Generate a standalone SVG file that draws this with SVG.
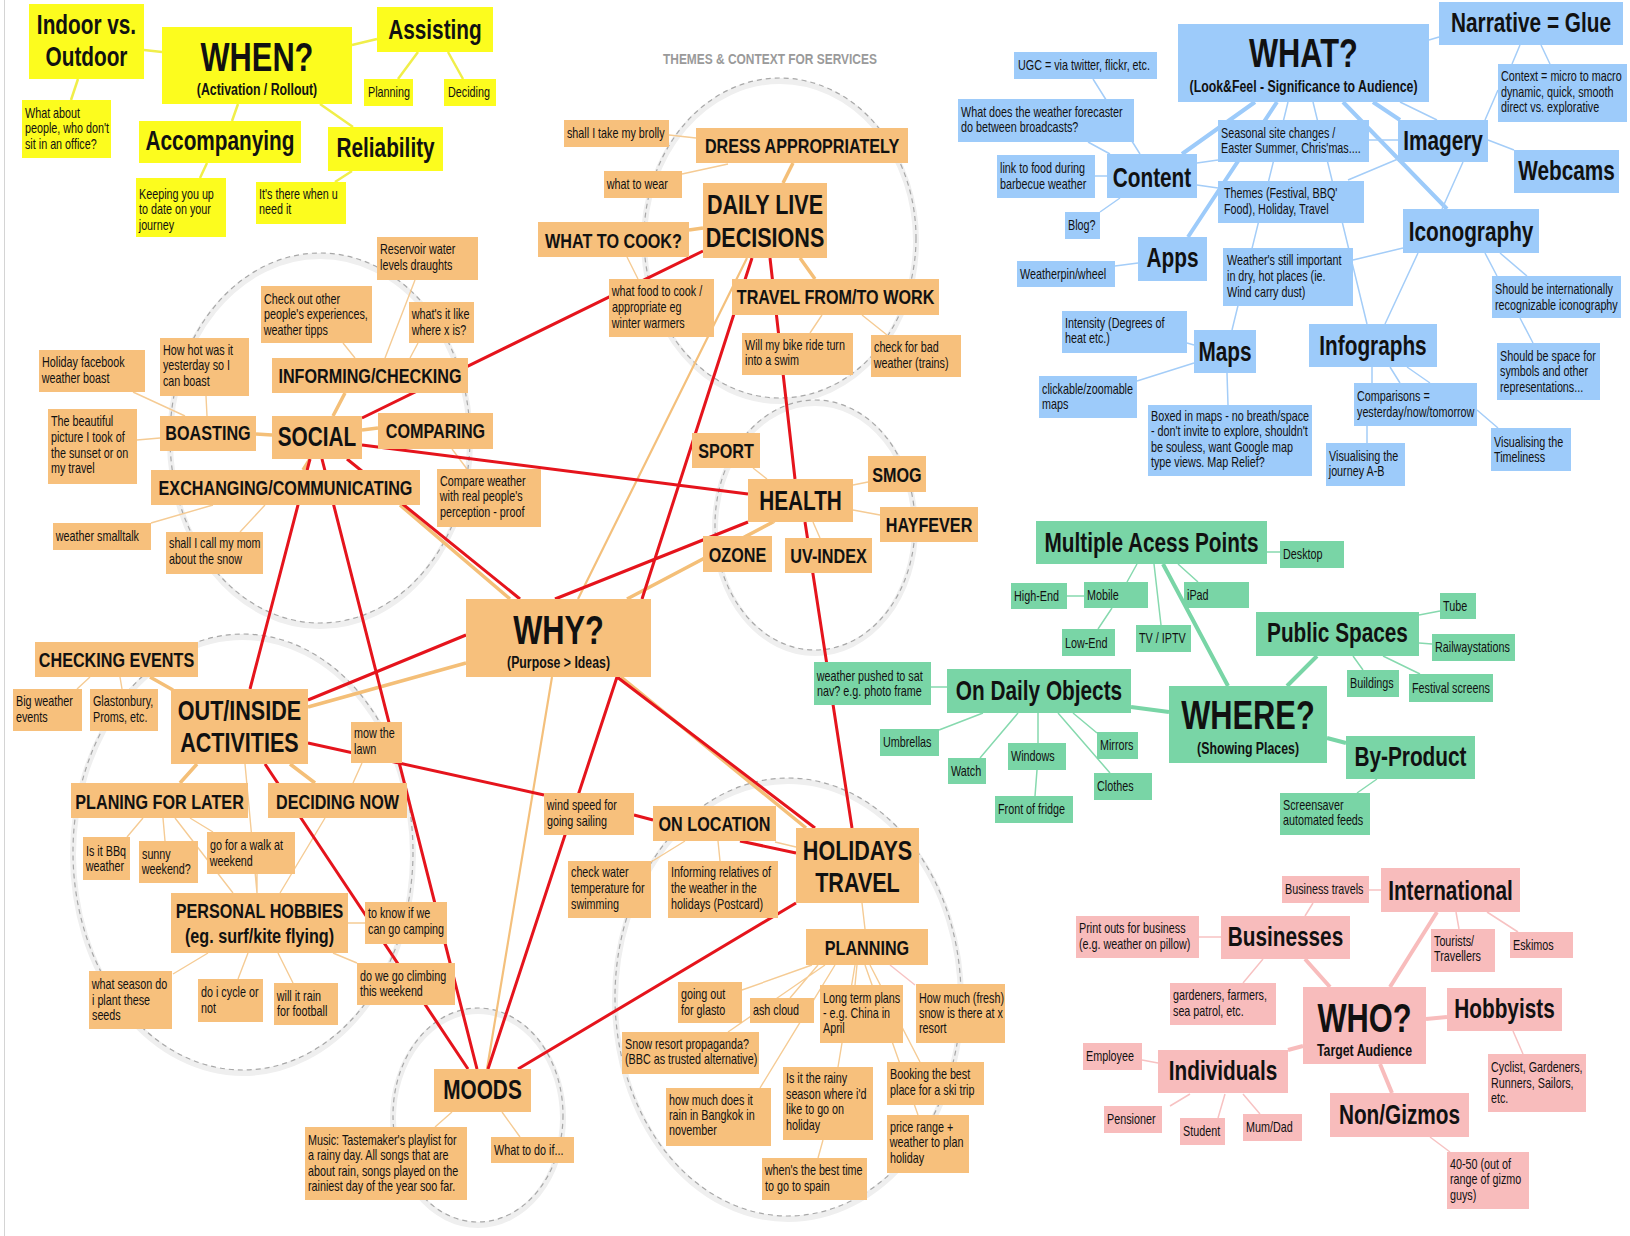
<svg xmlns="http://www.w3.org/2000/svg" width="1630" height="1236" viewBox="0 0 1630 1236">
<style>
text{font-family:"Liberation Sans",Arial,sans-serif;fill:#111;transform-box:fill-box;transform:scaleX(0.77)}
.y{fill:#fcfc1e}.o{fill:#f7c07c}.b{fill:#9dcbfa}.g{fill:#79d5a6}.p{fill:#f8bcbc}
.n{font-size:14px;transform-origin:0 50%}
.m{font-size:21px;font-weight:bold;text-anchor:middle;transform-origin:50% 50%}
.l{font-size:27px;font-weight:bold;text-anchor:middle;transform-origin:50% 50%}
.l2{font-size:28px}
.h{font-size:40px;font-weight:bold;text-anchor:middle;transform-origin:50% 50%}
.s{font-size:16px;font-weight:bold;text-anchor:middle;transform-origin:50% 50%}
.title{font-size:15.5px;font-weight:bold;fill:#9a9a9a;transform-origin:0 50%}
.cy{stroke:#f0ee4a;stroke-width:2.5;fill:none}
.cb{stroke:#a4cdf8;stroke-width:1.5;fill:none}
.cbt{stroke:#9dcbfa;stroke-width:4;fill:none}
.cg{stroke:#86d9ae;stroke-width:1.5;fill:none}
.cgt{stroke:#79d5a6;stroke-width:4;fill:none}
.cp{stroke:#f7c2c2;stroke-width:1.5;fill:none}
.cpt{stroke:#f8bcbc;stroke-width:4;fill:none}
.co{stroke:#f5cb94;stroke-width:1.4;fill:none}
.cot{stroke:#f4bf78;stroke-width:3.5;fill:none}
.com{stroke:#f4c07c;stroke-width:2.2;fill:none}
.cr{stroke:#e5141c;stroke-width:3;fill:none}
.sh{fill:none;stroke:#efefef;stroke-width:6}
.dc{fill:none;stroke:#a8a8a8;stroke-width:1.2;stroke-dasharray:5 4}
</style>
<rect width="1630" height="1236" fill="#ffffff"/>
<line x1="4.5" y1="0" x2="4.5" y2="1236" stroke="#d4d4d4" stroke-width="1"/>
<text class="title" x="663" y="64">THEMES &amp; CONTEXT FOR SERVICES</text>

<g id="circles">
<ellipse class="sh" cx="780" cy="241" rx="136" ry="160"/><ellipse class="dc" cx="780" cy="238" rx="136" ry="160"/>
<ellipse class="sh" cx="320" cy="441" rx="150" ry="185"/><ellipse class="dc" cx="320" cy="438" rx="150" ry="185"/>
<ellipse class="sh" cx="243" cy="855" rx="170" ry="218"/><ellipse class="dc" cx="243" cy="852" rx="170" ry="218"/>
<ellipse class="sh" cx="815" cy="528" rx="100" ry="125"/><ellipse class="dc" cx="815" cy="525" rx="100" ry="125"/>
<ellipse class="sh" cx="788" cy="1000" rx="173" ry="219"/><ellipse class="dc" cx="788" cy="997" rx="173" ry="219"/>
<ellipse class="sh" cx="478" cy="1118" rx="85" ry="107"/><ellipse class="dc" cx="478" cy="1115" rx="85" ry="107"/>
</g>

<g id="connectors">
<path class="cy" d="M144,50L162,52M78,79L71,100M238,104L232,121M320,104L353,127M352,45L377,39M418,52L398,79M448,52L463,79M207,163L200,178M352,171L335,182"/>
<path class="cbt" d="M1182,154L1255,102M1188,237L1277,102M1343,102L1447,209M1373,102L1400,120"/>
<path class="cb" d="M1288,102L1232,330M1313,102L1367,324M1400,102L1437,120M1429,40L1439,37M1095,176L1107,176M1088,142L1110,154M1093,79L1140,154M1100,212L1120,198M1197,163L1218,160M1197,185L1218,188M1115,266L1138,263M1187,343L1194,345M1137,381L1194,363M1227,373L1228,405M1485,120L1498,90M1520,45L1512,64M1541,45L1550,64M1488,140L1514,150M1369,140L1398,140M1348,180L1398,159M1463,162L1442,209M1403,248L1353,260M1418,253L1385,324M1485,253L1497,276M1500,253L1527,276M1520,318L1533,343M1372,367L1372,383M1390,367L1400,383M1407,367L1430,383M1367,426L1367,443M1477,410L1498,428"/>
<path class="cgt" d="M1163,564L1228,686M1287,686L1317,656M1327,738L1346,743M1131,707L1169,712"/>
<path class="cg" d="M1267,552L1280,552M1137,564L1127,582M1154,564L1161,625M1178,564L1198,582M1067,596L1084,596M1112,608L1098,629M1419,615L1440,611M1419,643L1432,644M1353,656L1363,670M1383,656L1420,674M1377,779L1357,793M931,687L947,687M983,713L939,730M1018,713L980,758M1038,713L1038,743M1037,770L1035,796M1073,713L1097,733M1058,713L1110,773"/>
<path class="cpt" d="M1305,959L1330,987M1437,912L1390,987M1426,1019L1447,1017M1303,1046L1288,1050M1380,1064L1392,1093"/>
<path class="cp" d="M1369,890L1381,890M1313,903L1305,916M1199,937L1221,937M1263,959L1243,983M1456,912L1459,929M1487,912L1518,932M1513,1031L1523,1054M1430,1137L1450,1152M1142,1060L1158,1063M1190,1094L1170,1106M1225,1094L1218,1118M1243,1094L1260,1114"/>
<path class="co" d="M669,135L696,138M682,174L728,164M627,257L638,279M822,315L810,333M862,315L887,335M343,343L355,358M415,280L385,358M418,343L410,358M133,392L185,416M206,396L207,416M137,440L160,438M151,523L213,505M240,532L265,505M452,449L467,469M90,677L77,689M120,677L122,689M245,764L257,893M362,763L353,783M127,837L143,818M165,841L163,818M213,832L190,818M175,818L233,893M257,874L257,893M325,818L280,893M348,923L365,923M333,953L357,963M208,953L173,974M248,953L238,979M278,953L293,983M452,1112L435,1127M502,1112L520,1137M685,841L651,862M718,841L720,861M853,485L868,482M853,510L880,515M813,522L820,538M775,522L745,536M753,468L767,479M862,903L865,929M775,842L796,847M742,990L812,965M790,998L818,965M728,1032L825,965M760,1088L835,965M857,965L855,985M855,965L838,1067M870,965L920,1062M865,965L918,1115M823,1140L818,1158"/>
<path class="cp" d="M890,965L915,985"/>
<path class="com" d="M552,677L487,1069M747,258L578,599"/>
<path class="cot" d="M400,505L510,599M308,707L466,663M621,677L806,828M773,522L627,599M333,416L345,393M310,459L303,470M362,430L378,428M256,434L272,435M150,677L173,690M197,764L180,783M290,764L315,783M689,230L703,228M793,163L783,183M800,258L815,279"/>
<path class="cr" d="M362,418L703,251M362,445L748,494M347,459L520,599M310,459L250,689M322,459L477,1069M308,700L466,635M308,743L544,795M634,815L653,820M740,841L796,853M617,677L815,828M617,677L488,1069M265,764L468,1069M770,258L795,479M752,258L642,599M748,522L555,599M805,522L852,828M518,1069L796,903"/>
</g>

<g id="n-indoor"><rect class="y" x="29" y="4" width="115" height="75"/><text class="l" x="86.5" y="34">Indoor vs.</text><text class="l" x="86.5" y="66">Outdoor</text></g>
<g id="n-when"><rect class="y" x="162" y="27" width="190" height="77"/><text class="h" x="257" y="71">WHEN?</text><text class="s" x="257" y="95">(Activation / Rollout)</text></g>
<g id="n-assisting"><rect class="y" x="377" y="7" width="116" height="45"/><text class="l" x="435" y="39">Assisting</text></g>
<g id="n-planning-y"><rect class="y" x="364" y="79" width="49" height="27"/><text class="n" x="368" y="97">Planning</text></g>
<g id="n-deciding"><rect class="y" x="444" y="79" width="52" height="27"/><text class="n" x="448" y="97">Deciding</text></g>
<g id="n-whatabout"><rect class="y" x="22" y="100" width="89" height="58"/><text class="n" x="25" y="118">What about</text><text class="n" x="25" y="133.5">people, who don't</text><text class="n" x="25" y="149">sit in an office?</text></g>
<g id="n-accomp"><rect class="y" x="139" y="121" width="162" height="42"/><text class="l" x="220" y="150">Accompanying</text></g>
<g id="n-reliab"><rect class="y" x="328" y="127" width="115" height="44"/><text class="l" x="385.5" y="157">Reliability</text></g>
<g id="n-keeping"><rect class="y" x="136" y="178" width="90" height="59"/><text class="n" x="139" y="199">Keeping you up</text><text class="n" x="139" y="214.5">to date on your</text><text class="n" x="139" y="230">journey</text></g>
<g id="n-itsthere"><rect class="y" x="256" y="182" width="90" height="42"/><text class="n" x="259" y="199">It's there when u</text><text class="n" x="259" y="214">need it</text></g>

<g id="n-what"><rect class="b" x="1178" y="24" width="251" height="78"/><text class="h" x="1303.5" y="67">WHAT?</text><text class="s" x="1303.5" y="92">(Look&amp;Feel - Significance to Audience)</text></g>
<g id="n-narr"><rect class="b" x="1439" y="2" width="184" height="43"/><text class="l" x="1531" y="32">Narrative = Glue</text></g>
<g id="n-context"><rect class="b" x="1498" y="64" width="129" height="58"/><text class="n" x="1501" y="81.5">Context = micro to macro</text><text class="n" x="1501" y="97">dynamic, quick, smooth</text><text class="n" x="1501" y="112">direct vs. explorative</text></g>
<g id="n-ugc"><rect class="b" x="1014" y="52" width="143" height="27"/><text class="n" x="1018" y="70">UGC = via twitter, flickr, etc.</text></g>
<g id="n-forecaster"><rect class="b" x="958" y="99" width="176" height="43"/><text class="n" x="961" y="117.5">What does the weather forecaster</text><text class="n" x="961" y="132.5">do between broadcasts?</text></g>
<g id="n-linkfood"><rect class="b" x="997" y="155" width="98" height="43"/><text class="n" x="1000" y="173.5">link to food during</text><text class="n" x="1000" y="189">barbecue weather</text></g>
<g id="n-content"><rect class="b" x="1107" y="154" width="90" height="44"/><text class="l" x="1152" y="187">Content</text></g>
<g id="n-blog"><rect class="b" x="1065" y="212" width="35" height="27"/><text class="n" x="1068" y="230">Blog?</text></g>
<g id="n-apps"><rect class="b" x="1138" y="237" width="69" height="44"/><text class="l" x="1172.5" y="267">Apps</text></g>
<g id="n-weatherpin"><rect class="b" x="1017" y="261" width="98" height="26"/><text class="n" x="1020" y="279">Weatherpin/wheel</text></g>
<g id="n-intensity"><rect class="b" x="1062" y="311" width="125" height="42"/><text class="n" x="1065" y="328">Intensity (Degrees of</text><text class="n" x="1065" y="343">heat etc.)</text></g>
<g id="n-maps"><rect class="b" x="1194" y="330" width="62" height="43"/><text class="l" x="1225" y="361">Maps</text></g>
<g id="n-clickable"><rect class="b" x="1039" y="376" width="98" height="42"/><text class="n" x="1042" y="394">clickable/zoomable</text><text class="n" x="1042" y="409">maps</text></g>
<g id="n-boxed"><rect class="b" x="1148" y="405" width="164" height="71"/><text class="n" x="1151" y="421.5">Boxed in maps - no breath/space</text><text class="n" x="1151" y="436.5">- don't invite to explore, shouldn't</text><text class="n" x="1151" y="452">be souless, want Google map</text><text class="n" x="1151" y="467">type views. Map Relief?</text></g>
<g id="n-seasonal"><rect class="b" x="1218" y="120" width="151" height="42"/><text class="n" x="1221" y="138">Seasonal site changes /</text><text class="n" x="1221" y="153">Easter Summer, Chris'mas....</text></g>
<g id="n-themes"><rect class="b" x="1218" y="181" width="146" height="42"/><text class="n" x="1224" y="198">Themes (Festival, BBQ'</text><text class="n" x="1224" y="214">Food), Holiday, Travel</text></g>
<g id="n-imagery"><rect class="b" x="1398" y="120" width="90" height="42"/><text class="l" x="1443" y="150">Imagery</text></g>
<g id="n-webcams"><rect class="b" x="1514" y="150" width="105" height="43"/><text class="l" x="1566.5" y="180">Webcams</text></g>
<g id="n-icono"><rect class="b" x="1403" y="209" width="136" height="44"/><text class="l" x="1471" y="241">Iconography</text></g>
<g id="n-weatherstill"><rect class="b" x="1223" y="248" width="130" height="58"/><text class="n" x="1227" y="265.5">Weather's still important</text><text class="n" x="1227" y="281.5">in dry, hot places (ie.</text><text class="n" x="1227" y="297">Wind carry dust)</text></g>
<g id="n-intlicon"><rect class="b" x="1492" y="276" width="129" height="42"/><text class="n" x="1495" y="294.5">Should be internationally</text><text class="n" x="1495" y="310">recognizable iconography</text></g>
<g id="n-space"><rect class="b" x="1497" y="343" width="103" height="57"/><text class="n" x="1500" y="361.5">Should be space for</text><text class="n" x="1500" y="376.5">symbols and other</text><text class="n" x="1500" y="392">representations...</text></g>
<g id="n-infographs"><rect class="b" x="1309" y="324" width="128" height="43"/><text class="l" x="1373" y="355">Infographs</text></g>
<g id="n-comparisons"><rect class="b" x="1354" y="383" width="123" height="43"/><text class="n" x="1357" y="401.5">Comparisons =</text><text class="n" x="1357" y="417">yesterday/now/tomorrow</text></g>
<g id="n-journey"><rect class="b" x="1326" y="443" width="79" height="43"/><text class="n" x="1329" y="461.5">Visualising the</text><text class="n" x="1329" y="476.5">journey A-B</text></g>
<g id="n-timeliness"><rect class="b" x="1491" y="428" width="80" height="43"/><text class="n" x="1494" y="447.5">Visualising the</text><text class="n" x="1494" y="462.5">Timeliness</text></g>

<g id="n-where"><rect class="g" x="1169" y="686" width="158" height="77"/><text class="h" x="1248" y="729">WHERE?</text><text class="s" x="1248" y="754">(Showing Places)</text></g>
<g id="n-multi"><rect class="g" x="1036" y="521" width="231" height="43"/><text class="l" x="1151.5" y="552">Multiple Acess Points</text></g>
<g id="n-desktop"><rect class="g" x="1280" y="541" width="64" height="27"/><text class="n" x="1283" y="559">Desktop</text></g>
<g id="n-highend"><rect class="g" x="1011" y="583" width="56" height="26"/><text class="n" x="1014" y="601">High-End</text></g>
<g id="n-mobile"><rect class="g" x="1084" y="582" width="64" height="26"/><text class="n" x="1087" y="600">Mobile</text></g>
<g id="n-ipad"><rect class="g" x="1184" y="582" width="65" height="26"/><text class="n" x="1187" y="600">iPad</text></g>
<g id="n-lowend"><rect class="g" x="1062" y="629" width="53" height="27"/><text class="n" x="1065" y="648">Low-End</text></g>
<g id="n-tv"><rect class="g" x="1136" y="625" width="55" height="27"/><text class="n" x="1139" y="643">TV / IPTV</text></g>
<g id="n-public"><rect class="g" x="1256" y="612" width="163" height="44"/><text class="l" x="1337.5" y="642">Public Spaces</text></g>
<g id="n-tube"><rect class="g" x="1440" y="593" width="36" height="26"/><text class="n" x="1443" y="611">Tube</text></g>
<g id="n-rail"><rect class="g" x="1432" y="634" width="83" height="27"/><text class="n" x="1435" y="652">Railwaystations</text></g>
<g id="n-buildings"><rect class="g" x="1347" y="670" width="52" height="27"/><text class="n" x="1350" y="688">Buildings</text></g>
<g id="n-festival"><rect class="g" x="1409" y="674" width="84" height="28"/><text class="n" x="1412" y="693">Festival screens</text></g>
<g id="n-byproduct"><rect class="g" x="1346" y="736" width="129" height="43"/><text class="l" x="1410.5" y="766">By-Product</text></g>
<g id="n-screensaver"><rect class="g" x="1280" y="793" width="90" height="42"/><text class="n" x="1283" y="810.5">Screensaver</text><text class="n" x="1283" y="825">automated feeds</text></g>
<g id="n-dailyobj"><rect class="g" x="947" y="669" width="184" height="44"/><text class="l" x="1039" y="700">On Daily Objects</text></g>
<g id="n-satnav"><rect class="g" x="814" y="662" width="117" height="43"/><text class="n" x="817" y="681.5">weather pushed to sat</text><text class="n" x="817" y="696.5">nav? e.g. photo frame</text></g>
<g id="n-umbrellas"><rect class="g" x="880" y="729" width="59" height="27"/><text class="n" x="883" y="747">Umbrellas</text></g>
<g id="n-watch"><rect class="g" x="948" y="758" width="38" height="26"/><text class="n" x="951" y="776">Watch</text></g>
<g id="n-windows"><rect class="g" x="1008" y="743" width="58" height="27"/><text class="n" x="1011" y="761">Windows</text></g>
<g id="n-mirrors"><rect class="g" x="1097" y="732" width="41" height="27"/><text class="n" x="1100" y="750">Mirrors</text></g>
<g id="n-clothes"><rect class="g" x="1094" y="773" width="58" height="27"/><text class="n" x="1097" y="791">Clothes</text></g>
<g id="n-fridge"><rect class="g" x="995" y="796" width="78" height="27"/><text class="n" x="998" y="814">Front of fridge</text></g>

<g id="n-who"><rect class="p" x="1303" y="987" width="123" height="77"/><text class="h" x="1364.5" y="1032">WHO?</text><text class="s" x="1364.5" y="1056">Target Audience</text></g>
<g id="n-intl"><rect class="p" x="1381" y="868" width="139" height="44"/><text class="l" x="1450.5" y="900">International</text></g>
<g id="n-btravels"><rect class="p" x="1282" y="876" width="87" height="27"/><text class="n" x="1285" y="894">Business travels</text></g>
<g id="n-businesses"><rect class="p" x="1221" y="916" width="129" height="43"/><text class="l" x="1285.5" y="946">Businesses</text></g>
<g id="n-printouts"><rect class="p" x="1076" y="916" width="123" height="42"/><text class="n" x="1079" y="933.5">Print outs for business</text><text class="n" x="1079" y="949">(e.g. weather on pillow)</text></g>
<g id="n-gardeners"><rect class="p" x="1170" y="983" width="106" height="42"/><text class="n" x="1173" y="1000.5">gardeners, farmers,</text><text class="n" x="1173" y="1016">sea patrol, etc.</text></g>
<g id="n-tourists"><rect class="p" x="1431" y="929" width="64" height="43"/><text class="n" x="1434" y="946.5">Tourists/</text><text class="n" x="1434" y="961.5">Travellers</text></g>
<g id="n-eskimos"><rect class="p" x="1510" y="932" width="63" height="26"/><text class="n" x="1513" y="950">Eskimos</text></g>
<g id="n-hobbyists"><rect class="p" x="1447" y="988" width="115" height="43"/><text class="l" x="1504.5" y="1018">Hobbyists</text></g>
<g id="n-cyclist"><rect class="p" x="1488" y="1054" width="98" height="58"/><text class="n" x="1491" y="1072.5">Cyclist, Gardeners,</text><text class="n" x="1491" y="1088.5">Runners, Sailors,</text><text class="n" x="1491" y="1103.5">etc.</text></g>
<g id="n-individuals"><rect class="p" x="1158" y="1050" width="130" height="43"/><text class="l" x="1223" y="1080">Individuals</text></g>
<g id="n-employee"><rect class="p" x="1083" y="1043" width="59" height="27"/><text class="n" x="1086" y="1061">Employee</text></g>
<g id="n-pensioner"><rect class="p" x="1104" y="1106" width="58" height="27"/><text class="n" x="1107" y="1124">Pensioner</text></g>
<g id="n-student"><rect class="p" x="1180" y="1118" width="45" height="27"/><text class="n" x="1183" y="1136">Student</text></g>
<g id="n-mumdad"><rect class="p" x="1243" y="1114" width="59" height="27"/><text class="n" x="1246" y="1132">Mum/Dad</text></g>
<g id="n-nongizmos"><rect class="p" x="1330" y="1093" width="139" height="44"/><text class="l" x="1399.5" y="1124">Non/Gizmos</text></g>
<g id="n-4050"><rect class="p" x="1447" y="1152" width="82" height="57"/><text class="n" x="1450" y="1169.5">40-50 (out of</text><text class="n" x="1450" y="1184.5">range of gizmo</text><text class="n" x="1450" y="1200">guys)</text></g>

<g id="n-why"><rect class="o" x="466" y="599" width="185" height="78"/><text class="h" x="558.5" y="644">WHY?</text><text class="s" x="558.5" y="668">(Purpose &gt; Ideas)</text></g>
<g id="n-dress"><rect class="o" x="696" y="128" width="212" height="35"/><text class="m" x="802" y="153">DRESS APPROPRIATELY</text></g>
<g id="n-brolly"><rect class="o" x="564" y="120" width="105" height="27"/><text class="n" x="567" y="138">shall I take my brolly</text></g>
<g id="n-wear"><rect class="o" x="604" y="171" width="78" height="27"/><text class="n" x="607" y="189">what to wear</text></g>
<g id="n-dailylive"><rect class="o" x="703" y="183" width="124" height="75"/><text class="l l2" x="765" y="214">DAILY LIVE</text><text class="l l2" x="765" y="247">DECISIONS</text></g>
<g id="n-cook"><rect class="o" x="538" y="222" width="151" height="35"/><text class="m" x="613.5" y="248">WHAT TO COOK?</text></g>
<g id="n-reservoir"><rect class="o" x="377" y="237" width="101" height="43"/><text class="n" x="380" y="254.5">Reservoir water</text><text class="n" x="380" y="270">levels draughts</text></g>
<g id="n-whatslike"><rect class="o" x="409" y="302" width="65" height="41"/><text class="n" x="412" y="319.5">what's it like</text><text class="n" x="412" y="335">where x is?</text></g>
<g id="n-foodcook"><rect class="o" x="609" y="279" width="105" height="58"/><text class="n" x="612" y="296.5">what food to cook /</text><text class="n" x="612" y="312.5">appropriate eg</text><text class="n" x="612" y="328">winter warmers</text></g>
<g id="n-travel"><rect class="o" x="732" y="279" width="207" height="36"/><text class="m" x="835.5" y="304">TRAVEL FROM/TO WORK</text></g>
<g id="n-bike"><rect class="o" x="742" y="333" width="111" height="42"/><text class="n" x="745" y="350.5">Will my bike ride turn</text><text class="n" x="745" y="365.5">into a swim</text></g>
<g id="n-badweather"><rect class="o" x="871" y="335" width="90" height="42"/><text class="n" x="874" y="352.5">check for bad</text><text class="n" x="874" y="368">weather (trains)</text></g>
<g id="n-informing"><rect class="o" x="272" y="358" width="196" height="35"/><text class="m" x="370" y="383">INFORMING/CHECKING</text></g>
<g id="n-checkout"><rect class="o" x="261" y="286" width="111" height="57"/><text class="n" x="264" y="304.5">Check out other</text><text class="n" x="264" y="319.5">people's experiences,</text><text class="n" x="264" y="335.5">weather tipps</text></g>
<g id="n-howhot"><rect class="o" x="160" y="338" width="89" height="58"/><text class="n" x="163" y="355.5">How hot was it</text><text class="n" x="163" y="370.5">yesterday so I</text><text class="n" x="163" y="386.5">can boast</text></g>
<g id="n-holidayfb"><rect class="o" x="39" y="350" width="106" height="42"/><text class="n" x="42" y="367.5">Holiday facebook</text><text class="n" x="42" y="383.5">weather boast</text></g>
<g id="n-social"><rect class="o" x="272" y="416" width="90" height="43"/><text class="l" x="317" y="446">SOCIAL</text></g>
<g id="n-boasting"><rect class="o" x="160" y="416" width="96" height="35"/><text class="m" x="208" y="440">BOASTING</text></g>
<g id="n-comparing"><rect class="o" x="378" y="413" width="115" height="36"/><text class="m" x="435.5" y="438">COMPARING</text></g>
<g id="n-beautiful"><rect class="o" x="48" y="409" width="89" height="75"/><text class="n" x="51" y="426.5">The beautiful</text><text class="n" x="51" y="442.5">picture I took of</text><text class="n" x="51" y="458.5">the sunset or on</text><text class="n" x="51" y="473.5">my travel</text></g>
<g id="n-exchanging"><rect class="o" x="151" y="470" width="269" height="35"/><text class="m" x="285.5" y="495">EXCHANGING/COMMUNICATING</text></g>
<g id="n-smalltalk"><rect class="o" x="53" y="523" width="98" height="27"/><text class="n" x="56" y="541">weather smalltalk</text></g>
<g id="n-callmom"><rect class="o" x="166" y="532" width="97" height="42"/><text class="n" x="169" y="548.5">shall I call my mom</text><text class="n" x="169" y="564">about the snow</text></g>
<g id="n-compare"><rect class="o" x="437" y="469" width="104" height="58"/><text class="n" x="440" y="486.5">Compare weather</text><text class="n" x="440" y="501.5">with real people's</text><text class="n" x="440" y="517">perception - proof</text></g>
<g id="n-checkevents"><rect class="o" x="35" y="642" width="163" height="35"/><text class="m" x="116.5" y="667">CHECKING EVENTS</text></g>
<g id="n-bigweather"><rect class="o" x="13" y="689" width="69" height="42"/><text class="n" x="16" y="706.5">Big weather</text><text class="n" x="16" y="722">events</text></g>
<g id="n-glasto"><rect class="o" x="90" y="689" width="68" height="42"/><text class="n" x="93" y="706.5">Glastonbury,</text><text class="n" x="93" y="722">Proms, etc.</text></g>
<g id="n-outinside"><rect class="o" x="171" y="689" width="137" height="75"/><text class="l l2" x="239.5" y="720">OUT/INSIDE</text><text class="l l2" x="239.5" y="752">ACTIVITIES</text></g>
<g id="n-mow"><rect class="o" x="351" y="722" width="51" height="41"/><text class="n" x="354" y="738.5">mow the</text><text class="n" x="354" y="754">lawn</text></g>
<g id="n-planing"><rect class="o" x="71" y="783" width="177" height="35"/><text class="m" x="159.5" y="809">PLANING FOR LATER</text></g>
<g id="n-decidingnow"><rect class="o" x="268" y="783" width="139" height="35"/><text class="m" x="337.5" y="809">DECIDING NOW</text></g>
<g id="n-bbq"><rect class="o" x="83" y="837" width="47" height="43"/><text class="n" x="86" y="856.5">Is it BBq</text><text class="n" x="86" y="871.5">weather</text></g>
<g id="n-sunny"><rect class="o" x="139" y="841" width="59" height="42"/><text class="n" x="142" y="859.5">sunny</text><text class="n" x="142" y="874.5">weekend?</text></g>
<g id="n-walk"><rect class="o" x="207" y="832" width="88" height="42"/><text class="n" x="210" y="850.5">go for a walk at</text><text class="n" x="210" y="866">weekend</text></g>
<g id="n-hobbies"><rect class="o" x="171" y="893" width="177" height="60"/><text class="m" x="259.5" y="918">PERSONAL HOBBIES</text><text class="m" x="259.5" y="943">(eg. surf/kite flying)</text></g>
<g id="n-camping"><rect class="o" x="365" y="902" width="82" height="42"/><text class="n" x="368" y="918.5">to know if we</text><text class="n" x="368" y="934.5">can go camping</text></g>
<g id="n-climbing"><rect class="o" x="357" y="963" width="98" height="42"/><text class="n" x="360" y="981.5">do we go climbing</text><text class="n" x="360" y="996.5">this weekend</text></g>
<g id="n-season"><rect class="o" x="89" y="971" width="83" height="58"/><text class="n" x="92" y="989.5">what season do</text><text class="n" x="92" y="1005.5">i plant these</text><text class="n" x="92" y="1020.5">seeds</text></g>
<g id="n-cycle"><rect class="o" x="198" y="979" width="65" height="43"/><text class="n" x="201" y="997.5">do i cycle or</text><text class="n" x="201" y="1013">not</text></g>
<g id="n-football"><rect class="o" x="274" y="983" width="64" height="42"/><text class="n" x="277" y="1001.5">will it rain</text><text class="n" x="277" y="1016.5">for football</text></g>
<g id="n-moods"><rect class="o" x="434" y="1069" width="97" height="43"/><text class="l" x="482.5" y="1099">MOODS</text></g>
<g id="n-music"><rect class="o" x="305" y="1127" width="162" height="73"/><text class="n" x="308" y="1145.5">Music: Tastemaker's playlist for</text><text class="n" x="308" y="1160.5">a rainy day. All songs that are</text><text class="n" x="308" y="1176.5">about rain, songs played on the</text><text class="n" x="308" y="1191.5">rainiest day of the year soo far.</text></g>
<g id="n-whattodo"><rect class="o" x="491" y="1137" width="83" height="26"/><text class="n" x="494" y="1155">What to do if...</text></g>
<g id="n-sport"><rect class="o" x="692" y="433" width="68" height="35"/><text class="m" x="726" y="458">SPORT</text></g>
<g id="n-health"><rect class="o" x="748" y="479" width="105" height="43"/><text class="l" x="800.5" y="510">HEALTH</text></g>
<g id="n-smog"><rect class="o" x="868" y="456" width="58" height="36"/><text class="m" x="897" y="482">SMOG</text></g>
<g id="n-hayfever"><rect class="o" x="880" y="507" width="98" height="35"/><text class="m" x="929" y="532">HAYFEVER</text></g>
<g id="n-ozone"><rect class="o" x="703" y="536" width="69" height="36"/><text class="m" x="737.5" y="562">OZONE</text></g>
<g id="n-uvindex"><rect class="o" x="785" y="538" width="87" height="35"/><text class="m" x="828.5" y="563">UV-INDEX</text></g>
<g id="n-windspeed"><rect class="o" x="544" y="793" width="90" height="42"/><text class="n" x="547" y="810.5">wind speed for</text><text class="n" x="547" y="826">going sailing</text></g>
<g id="n-onlocation"><rect class="o" x="653" y="806" width="123" height="35"/><text class="m" x="714.5" y="831">ON LOCATION</text></g>
<g id="n-holidays"><rect class="o" x="796" y="828" width="123" height="75"/><text class="l l2" x="857.5" y="860">HOLIDAYS</text><text class="l l2" x="857.5" y="892">TRAVEL</text></g>
<g id="n-water"><rect class="o" x="568" y="861" width="83" height="57"/><text class="n" x="571" y="877.5">check water</text><text class="n" x="571" y="893.5">temperature for</text><text class="n" x="571" y="909">swimming</text></g>
<g id="n-relatives"><rect class="o" x="668" y="861" width="110" height="57"/><text class="n" x="671" y="877.5">Informing relatives of</text><text class="n" x="671" y="893.5">the weather in the</text><text class="n" x="671" y="909">holidays (Postcard)</text></g>
<g id="n-planning"><rect class="o" x="806" y="929" width="122" height="36"/><text class="m" x="867" y="955">PLANNING</text></g>
<g id="n-glastoout"><rect class="o" x="678" y="982" width="64" height="41"/><text class="n" x="681" y="999.5">going out</text><text class="n" x="681" y="1015.5">for glasto</text></g>
<g id="n-ash"><rect class="o" x="750" y="998" width="64" height="25"/><text class="n" x="753" y="1015">ash cloud</text></g>
<g id="n-snowresort"><rect class="o" x="622" y="1032" width="137" height="42"/><text class="n" x="625" y="1049.5">Snow resort propaganda?</text><text class="n" x="625" y="1064.5">(BBC as trusted alternative)</text></g>
<g id="n-bangkok"><rect class="o" x="666" y="1088" width="105" height="58"/><text class="n" x="669" y="1105.5">how much does it</text><text class="n" x="669" y="1120.5">rain in Bangkok in</text><text class="n" x="669" y="1135.5">november</text></g>
<g id="n-rainy"><rect class="o" x="783" y="1067" width="90" height="73"/><text class="n" x="786" y="1083.5">Is it the rainy</text><text class="n" x="786" y="1099.5">season where i'd</text><text class="n" x="786" y="1114.5">like to go on</text><text class="n" x="786" y="1130.5">holiday</text></g>
<g id="n-spain"><rect class="o" x="762" y="1158" width="105" height="42"/><text class="n" x="765" y="1175.5">when's the best time</text><text class="n" x="765" y="1191">to go to spain</text></g>
<g id="n-longterm"><rect class="o" x="820" y="985" width="83" height="58"/><text class="n" x="823" y="1003.5">Long term plans</text><text class="n" x="823" y="1018.5">- e.g. China in</text><text class="n" x="823" y="1033.5">April</text></g>
<g id="n-freshsnow"><rect class="o" x="916" y="984" width="89" height="59"/><text class="n" x="919" y="1003.5">How much (fresh)</text><text class="n" x="919" y="1018.5">snow is there at x</text><text class="n" x="919" y="1033.5">resort</text></g>
<g id="n-booking"><rect class="o" x="887" y="1062" width="97" height="43"/><text class="n" x="890" y="1079.5">Booking the best</text><text class="n" x="890" y="1095.5">place for a ski trip</text></g>
<g id="n-price"><rect class="o" x="887" y="1115" width="82" height="58"/><text class="n" x="890" y="1132.5">price range +</text><text class="n" x="890" y="1147.5">weather to plan</text><text class="n" x="890" y="1163.5">holiday</text></g>
</svg>
